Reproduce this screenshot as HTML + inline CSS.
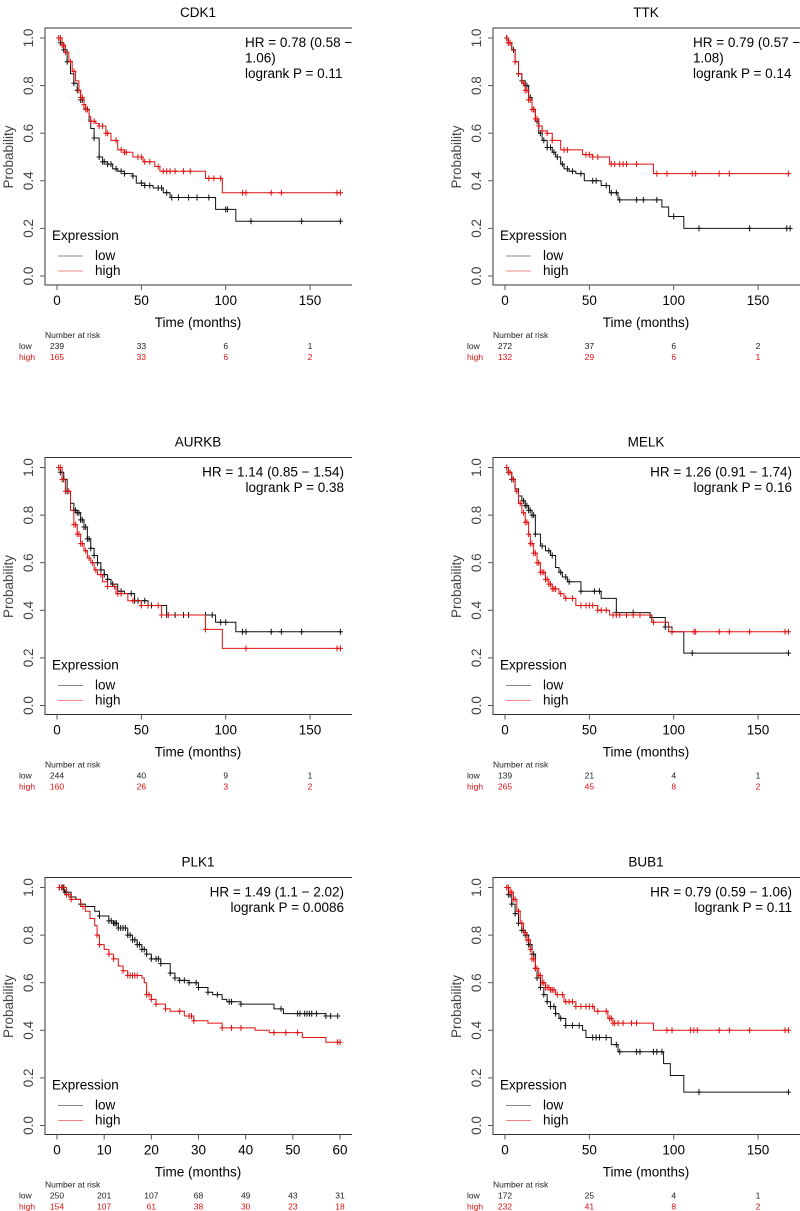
<!DOCTYPE html>
<html><head><meta charset="utf-8">
<style>
html,body{margin:0;padding:0;background:#fff;}
svg{display:block;font-family:"Liberation Sans",Arial,sans-serif;}
</style></head>
<body>
<svg id="fig" width="800" height="1211" viewBox="0 0 800 1211" xmlns="http://www.w3.org/2000/svg"></svg>
<script>
// ---- data ----
const cdk1LowT=[0,2,4,6,8,10,12,14,16,19,20,22,25,27,30,33,36,40,45,47,52,57,63,67,94,106];
const cdk1LowS=[1,0.98,0.95,0.9,0.85,0.81,0.78,0.74,0.7,0.65,0.62,0.58,0.5,0.48,0.47,0.45,0.44,0.43,0.42,0.39,0.38,0.37,0.35,0.33,0.28,0.23];
const cdk1LowC=[2,4,6,10,12,14,15,18,22,25,27,28,30,32,35,38,40,45,50,52,55,60,62,65,68,72,78,83,90,100,101,115,145,168];
const cdk1HighT=[0,3,5,7,9,11,13,14,16,17,19,20,23,25,29,32,36,40,45,51,58,61,88,98];
const cdk1HighS=[1,0.97,0.94,0.9,0.86,0.82,0.78,0.75,0.72,0.7,0.67,0.65,0.64,0.63,0.6,0.57,0.53,0.52,0.5,0.48,0.46,0.44,0.41,0.35];
const cdk1HighC=[1,2,3,4,5,8,10,13,14,15,16,17,18,20,22,25,27,29,30,35,38,40,41,48,50,52,55,60,63,65,67,70,75,79,90,93,97,110,112,127,133,166,168];

const ttkLowT=[0,2,4,6,8,10,12,14,16,18,20,22,25,28,30,33,35,38,42,47,57,62,67,93,97,106];
const ttkLowS=[1,0.98,0.95,0.9,0.85,0.82,0.8,0.75,0.7,0.65,0.6,0.57,0.54,0.52,0.5,0.47,0.45,0.44,0.43,0.4,0.38,0.35,0.32,0.29,0.25,0.2];
const ttkLowC=[1,2,3,5,8,10,12,13,15,17,19,21,23,25,27,29,31,34,37,40,45,52,54,60,63,66,68,78,82,90,100,115,145,167,169];
const ttkHighT=[0,2,4,6,8,10,12,14,16,18,20,22,25,28,33,46,52,62,88];
const ttkHighS=[1,0.98,0.95,0.9,0.85,0.81,0.78,0.74,0.7,0.66,0.63,0.61,0.6,0.57,0.53,0.51,0.5,0.47,0.43];
const ttkHighC=[1,2,3,6,8,11,12,13,14,15,16,17,18,19,20,22,25,28,35,37,48,50,52,55,63,65,68,70,72,78,90,96,111,113,127,133,168];

const aurkbLowT=[0,2,4,6,8,10,12,14,16,18,20,22,24,26,28,30,32,36,40,46,54,65,94,106];
const aurkbLowS=[1,0.98,0.95,0.9,0.85,0.82,0.81,0.78,0.75,0.7,0.66,0.63,0.6,0.57,0.55,0.53,0.51,0.48,0.47,0.44,0.42,0.38,0.35,0.31];
const aurkbLowC=[2,4,6,10,11,12,13,14,15,16,17,18,19,20,22,24,26,28,30,33,38,44,46,48,52,56,65,70,75,78,88,92,97,100,110,112,127,133,145,168];
const aurkbHighT=[0,3,5,8,10,12,14,16,18,20,22,24,27,30,35,42,50,62,88,98];
const aurkbHighS=[1,0.95,0.9,0.82,0.76,0.72,0.68,0.65,0.62,0.6,0.57,0.55,0.52,0.5,0.47,0.44,0.42,0.38,0.32,0.24];
const aurkbHighC=[1,2,3,5,7,10,11,12,13,14,15,17,19,21,23,26,30,34,36,38,45,50,54,60,62,66,88,112,166,168];

const melkLowT=[0,2,4,6,8,10,12,14,16,18,21,24,27,30,32,34,37,45,57,66,86,95,99,106];
const melkLowS=[1,0.98,0.95,0.91,0.88,0.86,0.84,0.82,0.8,0.72,0.67,0.65,0.63,0.58,0.56,0.54,0.52,0.48,0.45,0.39,0.37,0.33,0.31,0.22];
const melkLowC=[2,4,5,11,12,13,14,15,16,17,18,22,26,28,33,36,38,45,53,56,66,76,87,95,99,111,168];
const melkHighT=[0,2,4,6,8,10,12,14,15,17,19,21,24,26,28,32,35,42,55,62,87,97];
const melkHighS=[1,0.98,0.95,0.9,0.85,0.81,0.77,0.72,0.68,0.64,0.6,0.56,0.53,0.51,0.49,0.47,0.45,0.42,0.4,0.38,0.35,0.31];
const melkHighC=[1,2,3,5,7,9,11,12,13,14,15,16,17,18,19,20,21,22,23,24,25,26,27,28,29,30,33,36,40,45,48,50,52,55,57,60,64,66,68,72,76,80,88,99,112,113,127,133,145,166,168];

const plk1LowT=[0,1.5,3,4,5,6,8,9,11,12,13,15,16,17,18,19,20,22,24,25,26,28,30,32,33,35,36,39,46,48,57];
const plk1LowS=[1,0.98,0.96,0.95,0.93,0.92,0.9,0.88,0.86,0.85,0.83,0.8,0.78,0.76,0.74,0.72,0.7,0.68,0.64,0.62,0.61,0.6,0.58,0.56,0.55,0.53,0.52,0.51,0.49,0.47,0.46];
const plk1LowC=[0.5,1,1.3,1.7,2,3,5,9,11,11.5,12,12.3,12.6,13,13.5,14,14.5,15,15.5,16,16.5,17,17.5,18,18.5,19,20,21,21.5,22,24,25,26,27,28,29.5,30,32,34,36.5,37,39,47.5,51,51.5,52.5,53,53.5,54,55,57,58,59.5];
const plk1HighT=[0,2,3,5,6,7,8,8.5,9,10,11,12,13,14,15,18,18.5,19,20,21,23,24,27,29,32,35,42,45,52,57];
const plk1HighS=[1,0.97,0.95,0.92,0.9,0.87,0.84,0.8,0.76,0.74,0.72,0.7,0.67,0.65,0.63,0.62,0.6,0.55,0.53,0.51,0.49,0.48,0.46,0.44,0.43,0.41,0.4,0.39,0.37,0.35];
const plk1HighC=[0.5,1,1.5,2,2.5,3,5.5,8.5,9,11,12,14,15,15.5,16,16.5,17,19,19.5,20,21,23,26,28,28.5,29,35,37,39,46,48.5,51,59.5,60];

const bub1LowT=[0,2,4,6,8,10,12,14,16,18,19,21,23,25,27,30,32,36,46,48,63,67,94,98,106];
const bub1LowS=[1,0.97,0.93,0.89,0.85,0.82,0.8,0.76,0.72,0.66,0.62,0.58,0.55,0.52,0.5,0.47,0.45,0.42,0.4,0.37,0.34,0.31,0.26,0.21,0.14];
const bub1LowC=[2,3,4,6,8,10,11,12,13,14,15,16,17,18,19,21,23,25,27,29,30,33,36,40,44,52,54,56,60,66,68,78,80,88,90,93,115,168];
const bub1HighT=[0,3,5,7,9,11,13,15,16,18,20,22,24,27,30,35,42,53,61,64,88];
const bub1HighS=[1,0.98,0.95,0.9,0.85,0.81,0.78,0.74,0.7,0.66,0.63,0.6,0.58,0.57,0.55,0.52,0.5,0.48,0.45,0.43,0.4];
const bub1HighC=[1,2,3,4,5,6,8,10,12,13,14,15,16,17,18,19,20,21,22,23,24,25,26,27,28,29,31,34,36,38,40,42,45,48,50,52,55,60,62,63,64,65,67,70,75,78,96,99,110,112,114,127,133,145,166,168];

const ticks170=[0,50,100,150];
const ticks60=[0,10,20,30,40,50,60];
const yTicks=[0,0.2,0.4,0.6,0.8,1.0];

const cdk1RiskLow=[239,33,6,1], cdk1RiskHigh=[165,33,6,2];
const ttkRiskLow=[272,37,6,2], ttkRiskHigh=[132,29,6,1];
const aurkbRiskLow=[244,40,9,1], aurkbRiskHigh=[160,26,3,2];
const melkRiskLow=[139,21,4,1], melkRiskHigh=[265,45,8,2];
const plk1RiskLow=[250,201,107,68,49,43,31], plk1RiskHigh=[154,107,61,38,30,23,18];
const bub1RiskLow=[172,25,4,1], bub1RiskHigh=[232,41,8,2];

// ---- drawing ----
const NS="http://www.w3.org/2000/svg";
const svg=document.getElementById('fig');
function mk(tag,attrs,parent,txt){const e=document.createElementNS(NS,tag);for(const k in attrs)e.setAttribute(k,attrs[k]);if(txt!==undefined)e.textContent=txt;(parent||svg).appendChild(e);return e;}
function survAt(T,S,t){let s=1;for(let i=0;i<T.length;i++){if(T[i]<=t)s=S[i];}return s;}

function panel(p){
  const g=mk('g',{});
  
  
  const ox=p.ox, oy=p.oy;
  const k=p.k;
  const X=t=>ox+57+t*k;
  const Y=s=>oy+276-s*238;
  const t1=mk('text',{x:ox+198,y:oy+17,'text-anchor':'middle','font-size':'13.5'},g,p.title);
  
  
  const box=mk('path',{d:`M${ox+352},${oy+28} H${ox+45} V${oy+285} H${ox+352}`,fill:'none',stroke:'#333','stroke-width':1},g);
  
  
  // y axis
  yTicks.forEach(v=>{
    const y=Y(v);
    mk('line',{x1:ox+40,x2:ox+45,y1:y,y2:y,stroke:'#555'},g);
    const tl=mk('text',{x:ox+33,y:y,'text-anchor':'middle','font-size':'13.5',fill:'#444',transform:`rotate(-90 ${ox+33} ${y})`},g,v.toFixed(1));
    
    
  });
  const yl=mk('text',{x:ox+13,y:oy+157,'text-anchor':'middle','font-size':'13.5',fill:'#444',transform:`rotate(-90 ${ox+13} ${oy+157})`},g,'Probability');
  
  
  // x axis
  p.xt.forEach(v=>{
    const x=X(v);
    mk('line',{x1:x,x2:x,y1:oy+285,y2:oy+290,stroke:'#555'},g);
    const tl=mk('text',{x:x,y:oy+305,'text-anchor':'middle','font-size':'13.5'},g,String(v));
    
    
  });
  const xl=mk('text',{x:ox+198,y:oy+327,'text-anchor':'middle','font-size':'13.5'},g,'Time (months)');
  
  
  // HR text
  p.hr.forEach((line,i)=>{
    const ht=mk('text',{x:p.hrLeft?ox+245:ox+344,y:oy+47+i*15.5,'text-anchor':p.hrLeft?'start':'end','font-size':'13.5'},g,line);
    
    
  });
  // curves
  [[p.lowT,p.lowS,p.lowC,'#111','low'],[p.highT,p.highS,p.highC,'#e01010','high']].forEach(([T,S,C,col,nm])=>{
    let d=`M${X(T[0])},${Y(S[0])}`;
    for(let i=1;i<T.length;i++){d+=` H${X(T[i])} V${Y(S[i])}`;}
    const last=Math.max(C[C.length-1],T[T.length-1]);
    d+=` H${X(last)}`;
    const pa=mk('path',{d:d,fill:'none',stroke:col,'stroke-width':1},g);
    
    
    C.forEach(t=>{
      const x=X(t), y=Y(survAt(T,S,t));
      const c=mk('path',{d:`M${x-2.5},${y} H${x+2.5} M${x},${y-3} V${y+3}`,stroke:col,'stroke-width':1},g);
      
      
    });
  });
  // legend
  const lg=mk('text',{x:ox+52,y:oy+240,'font-size':'13.5'},g,'Expression');
  
  
  mk('line',{x1:ox+58,x2:ox+83,y1:oy+256,y2:oy+256,stroke:'#888'},g);
  mk('line',{x1:ox+58,x2:ox+83,y1:oy+271,y2:oy+271,stroke:'#e88'},g);
  const l1=mk('text',{x:ox+95,y:oy+260,'font-size':'13.5'},g,'low');
  
  
  const l2=mk('text',{x:ox+95,y:oy+275,'font-size':'13.5'},g,'high');
  
  
  // risk table
  const rt=mk('text',{x:ox+45,y:oy+338,'font-size':'8.5',fill:'#222'},g,'Number at risk');
  
  
  mk('text',{x:ox+19,y:oy+349,'font-size':'8.5',fill:'#222'},g,'low');
  mk('text',{x:ox+19,y:oy+360,'font-size':'8.5',fill:'#e01010'},g,'high');
  p.xt.forEach((v,i)=>{
    const a=mk('text',{x:X(v),y:oy+349,'text-anchor':'middle','font-size':'8.5',fill:'#222'},g,String(p.rl[i]));
    
    
    const b=mk('text',{x:X(v),y:oy+360,'text-anchor':'middle','font-size':'8.5',fill:'#e01010'},g,String(p.rh[i]));
    
    
  });
}
const k170=1.687, k60=4.717;
panel({id:'cdk1',title:'CDK1',ox:0,oy:0,k:k170,xt:ticks170,hrLeft:true,hr:['HR = 0.78 (0.58 \u2212','1.06)','logrank P = 0.11'],lowT:cdk1LowT,lowS:cdk1LowS,lowC:cdk1LowC,highT:cdk1HighT,highS:cdk1HighS,highC:cdk1HighC,rl:cdk1RiskLow,rh:cdk1RiskHigh});
panel({id:'ttk',title:'TTK',ox:448,oy:0,k:k170,xt:ticks170,hrLeft:true,hr:['HR = 0.79 (0.57 \u2212','1.08)','logrank P = 0.14'],lowT:ttkLowT,lowS:ttkLowS,lowC:ttkLowC,highT:ttkHighT,highS:ttkHighS,highC:ttkHighC,rl:ttkRiskLow,rh:ttkRiskHigh});
panel({id:'aurkb',title:'AURKB',ox:0,oy:429.5,k:k170,xt:ticks170,hrLeft:false,hr:['HR = 1.14 (0.85 \u2212 1.54)','logrank P = 0.38'],lowT:aurkbLowT,lowS:aurkbLowS,lowC:aurkbLowC,highT:aurkbHighT,highS:aurkbHighS,highC:aurkbHighC,rl:aurkbRiskLow,rh:aurkbRiskHigh});
panel({id:'melk',title:'MELK',ox:448,oy:429.5,k:k170,xt:ticks170,hrLeft:false,hr:['HR = 1.26 (0.91 \u2212 1.74)','logrank P = 0.16'],lowT:melkLowT,lowS:melkLowS,lowC:melkLowC,highT:melkHighT,highS:melkHighS,highC:melkHighC,rl:melkRiskLow,rh:melkRiskHigh});
panel({id:'plk1',title:'PLK1',ox:0,oy:849.5,k:k60,xt:ticks60,hrLeft:false,hr:['HR = 1.49 (1.1 \u2212 2.02)','logrank P = 0.0086'],lowT:plk1LowT,lowS:plk1LowS,lowC:plk1LowC,highT:plk1HighT,highS:plk1HighS,highC:plk1HighC,rl:plk1RiskLow,rh:plk1RiskHigh});
panel({id:'bub1',title:'BUB1',ox:448,oy:849.5,k:k170,xt:ticks170,hrLeft:false,hr:['HR = 0.79 (0.59 \u2212 1.06)','logrank P = 0.11'],lowT:bub1LowT,lowS:bub1LowS,lowC:bub1LowC,highT:bub1HighT,highS:bub1HighS,highC:bub1HighC,rl:bub1RiskLow,rh:bub1RiskHigh});
</script>
</body></html>
